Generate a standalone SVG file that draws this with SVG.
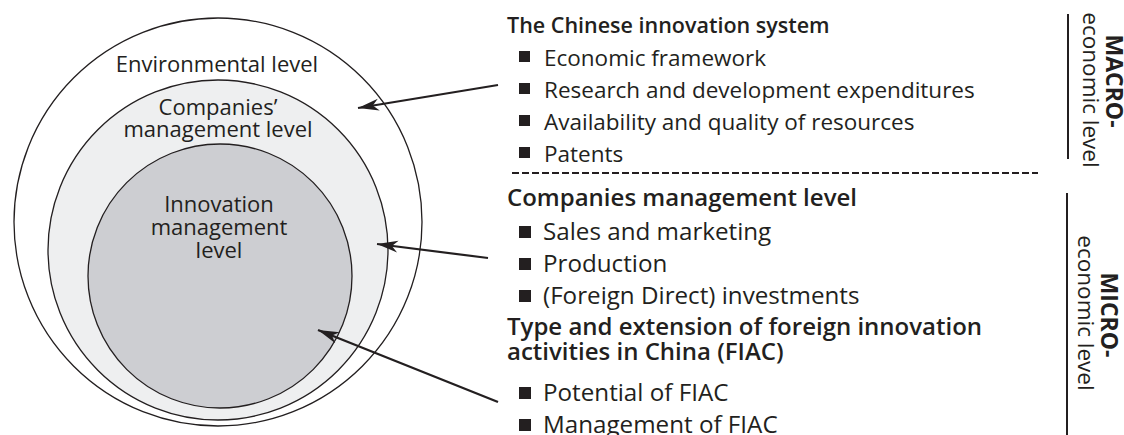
<svg xmlns="http://www.w3.org/2000/svg" width="1124" height="435" viewBox="0 0 1124 435">
  <style>
    text { font-family: "Open Sans", "Noto Sans", "Liberation Sans", sans-serif; fill: #231f20; }
    .lbl { font-size: 22px; text-anchor: middle; }
    .item { font-size: 22.5px; }
    .head { font-size: 21.5px; font-weight: 600; }
    .item2 { font-size: 24.2px; }
    .head2 { font-size: 24px; font-weight: 600; }
    .side { font-size: 22.5px; }
    .sideb { font-size: 23px; font-weight: 700; }
    .ring { stroke: #231f20; stroke-width: 1.3; }
    .bullet { fill: #231f20; }
    .conn { stroke: #231f20; stroke-width: 2.2; fill: none; marker-end: url(#arrow); }
    .rule { stroke: #231f20; stroke-width: 2; }
  </style>
  <defs>
    <marker id="arrow" markerUnits="userSpaceOnUse" markerWidth="24" markerHeight="14" refX="21" refY="6" orient="auto" viewBox="0 0 24 12">
      <path d="M0,0 L21,6 L0,12 L6,6 Z" fill="#231f20"/>
    </marker>
  </defs>

  <!-- nested level circles -->
  <g id="environmental-level">
    <circle class="ring" cx="218" cy="222" r="204" fill="#ffffff"/>
    <text class="lbl" x="217" y="72">Environmental level</text>
  </g>
  <g id="companies-management-level">
    <circle class="ring" cx="218" cy="250" r="170" fill="#eeeff0"/>
    <text class="lbl" x="218" y="115">Companies’</text>
    <text class="lbl" x="218" y="137">management level</text>
  </g>
  <g id="innovation-management-level">
    <circle class="ring" cx="220" cy="276" r="132" fill="#cdced2"/>
    <text class="lbl" x="219" y="212">Innovation</text>
    <text class="lbl" x="219" y="235">management</text>
    <text class="lbl" x="219" y="258">level</text>
  </g>

  <!-- connectors from the lists to the circles -->
  <g id="connectors">
    <line class="conn" x1="498" y1="85" x2="358" y2="108"/>
    <line class="conn" x1="488" y1="258" x2="377" y2="244"/>
    <line class="conn" x1="498" y1="402" x2="318" y2="330"/>
  </g>

  <!-- macro-economic list -->
  <g id="chinese-innovation-system">
    <text class="head" x="507" y="33">The Chinese innovation system</text>
    <rect class="bullet" x="519" y="51" width="11" height="11"/>
    <text class="item" x="544" y="66">Economic framework</text>
    <rect class="bullet" x="519" y="83" width="11" height="11"/>
    <text class="item" x="544" y="98">Research and development expenditures</text>
    <rect class="bullet" x="519" y="115" width="11" height="11"/>
    <text class="item" x="544" y="130">Availability and quality of resources</text>
    <rect class="bullet" x="519" y="147" width="11" height="11"/>
    <text class="item" x="544" y="162">Patents</text>
  </g>

  <line id="divider" x1="512" y1="173" x2="1038" y2="173" stroke="#231f20" stroke-width="2" stroke-dasharray="7 3"/>

  <!-- micro-economic lists -->
  <g id="companies-management-list">
    <text class="head2" x="507" y="206">Companies management level</text>
    <rect class="bullet" x="519" y="226" width="12" height="12"/>
    <text class="item2" x="543" y="240">Sales and marketing</text>
    <rect class="bullet" x="519" y="258" width="12" height="12"/>
    <text class="item2" x="543" y="272">Production</text>
    <rect class="bullet" x="519" y="290" width="12" height="12"/>
    <text class="item2" x="543" y="304">(Foreign Direct) investments</text>
  </g>
  <g id="fiac-list">
    <text class="head2" x="507" y="335">Type and extension of foreign innovation</text>
    <text class="head2" x="507" y="360">activities in China (FIAC)</text>
    <rect class="bullet" x="519" y="387" width="12" height="12"/>
    <text class="item2" x="543" y="401">Potential of FIAC</text>
    <rect class="bullet" x="519" y="419" width="12" height="12"/>
    <text class="item2" x="543" y="433">Management of FIAC</text>
  </g>

  <!-- level brackets on the right -->
  <g id="macro-level">
    <line class="rule" x1="1068" y1="14" x2="1068" y2="159"/>
    <text class="side" transform="translate(1083 90) rotate(90)" text-anchor="middle">economic level</text>
    <text class="sideb" transform="translate(1106 81) rotate(90)" text-anchor="middle">MACRO-</text>
  </g>
  <g id="micro-level">
    <line class="rule" x1="1067" y1="193" x2="1067" y2="435"/>
    <text class="side" transform="translate(1078 313) rotate(90)" text-anchor="middle">economic level</text>
    <text class="sideb" transform="translate(1101 315) rotate(90)" text-anchor="middle">MICRO-</text>
  </g>
</svg>
